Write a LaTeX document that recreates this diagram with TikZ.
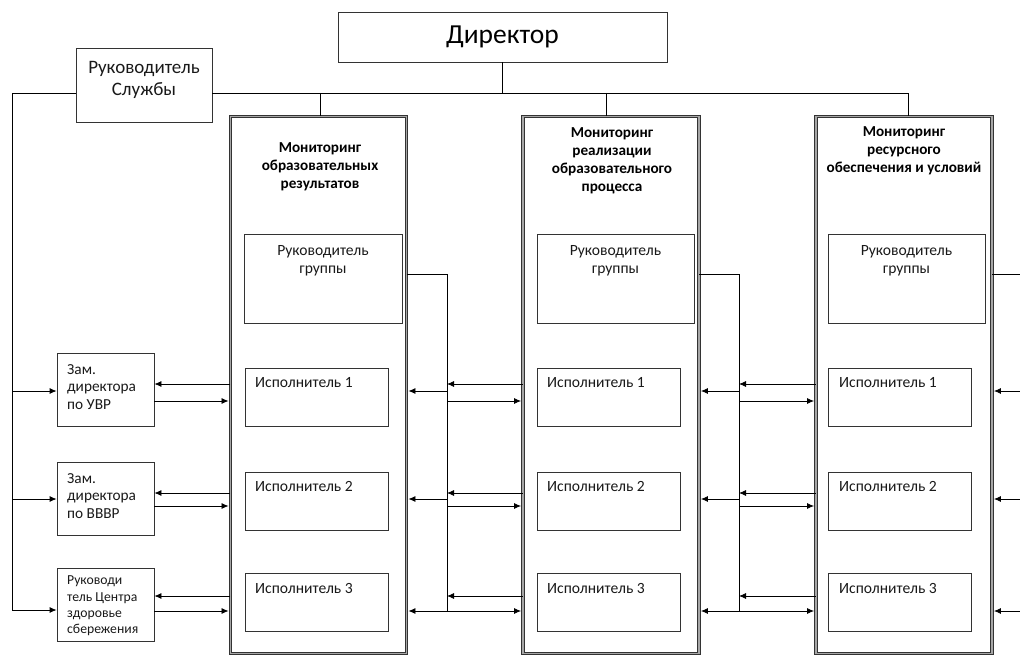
\documentclass[tikz,border=0pt]{standalone}
\usepackage{fontspec}
\setmainfont{Carlito}
\usetikzlibrary{arrows.meta}
\begin{document}
\begin{tikzpicture}[x=1pt,y=-1pt,
  box/.style={draw=black!80, line width=0.8pt, rectangle, inner sep=0pt},
  colbox/.style={draw=black!80, double=black!35, double distance=1.4pt, line width=0.9pt, inner sep=0pt, minimum width=176pt, minimum height=537pt},
  ln/.style={line width=0.8pt, draw=black},
  arr/.style={ln, -{Latex[length=7pt,width=6pt]}},
  arrc/.style={arr, shorten >=1.5pt},
  ttl/.style={font=\bfseries\fontsize{15.2}{18.3}\selectfont, align=center, inner sep=0pt, anchor=north, text=black},
  txt/.style={font=\fontsize{15.6}{18}\selectfont, inner sep=0pt, text=black!90},
  small/.style={font=\fontsize{15.3}{17.5}\selectfont, align=left, inner sep=0pt, anchor=north west, text=black!90},
]
\useasboundingbox (0,0) rectangle (1020,655);

% top boxes
\node[box, minimum width=329pt, minimum height=50pt, font=\fontsize{27.5}{30}\selectfont] (dir) at (502.5,37) {Директор};
\node[box, minimum width=136pt, minimum height=74pt] (rs) at (144,85) {};
\node[font=\fontsize{19}{22.5}\selectfont, align=center, inner sep=0pt, anchor=north, text=black!90] (rst) at (144,61) {Руководитель\\Службы};

% columns
\node[colbox] (c1) at (318.5,385) {};
\node[colbox] (c2) at (611,385) {};
\node[colbox] (c3) at (904,385) {};

\node[ttl] (t1) at (320,142) {Мониторинг\\образовательных\\результатов};
\node[ttl] (t2) at (612,127) {Мониторинг\\реализации\\образовательного\\процесса};
\node[ttl] (t3) at (904,126) {Мониторинг\\ресурсного\\обеспечения и условий};

% group leader boxes
\node[box, minimum width=158pt, minimum height=89pt] (g1) at (323,278.5) {};
\node[box, minimum width=157pt, minimum height=89pt] (g2) at (615.5,278.5) {};
\node[box, minimum width=157pt, minimum height=89pt] (g3) at (906.5,278.5) {};
\foreach \g in {1,2,3}{
  \node[txt, align=center, anchor=north] (g\g t) at (g\g.north |- 0,245) {Руководитель\\группы};
}

% executor boxes
\foreach \c/\cx/\tx in {1/316.5/255, 2/608.5/547, 3/899.5/839}{
  \foreach \r/\cy/\ty in {1/397/377, 2/501/481, 3/602.5/583}{
    \node[box, minimum width=143pt, minimum height=58pt] (e\c\r) at (\cx,\cy) {};
    \node[txt, anchor=north west] (e\c\r t) at (\tx,\ty) {Исполнитель \r};
  }
}

% left boxes
\node[box, minimum width=97pt, minimum height=73pt] (z1) at (105.5,389.5) {};
\node[small] (z1t) at (67,364) {Зам.\\директора\\по УВР};
\node[box, minimum width=97pt, minimum height=73pt] (z2) at (105.5,498.5) {};
\node[small] (z2t) at (67,473) {Зам.\\директора\\по ВВВР};
\node[box, minimum width=97pt, minimum height=73pt] (z3) at (105.5,604.5) {};
\node[small, font=\fontsize{13.7}{16.1}\selectfont] (z3t) at (67,576) {Руководи\\тель Центра\\здоровье\\сбережения};

% top bus
\coordinate (bus) at (0,93);
\draw[ln] (dir.south) -- (dir.south |- bus);
\draw[ln] (rs.east |- bus) -- ([xshift=4pt]c3.north |- bus) -- ([xshift=4pt]c3.north);
\draw[ln] ([xshift=1.5pt]c1.north |- bus) -- ([xshift=1.5pt]c1.north);
\draw[ln] ([xshift=-5pt]c2.north |- bus) -- ([xshift=-5pt]c2.north);

% left bus
\coordinate (lt) at (12,93);
\coordinate (lb) at (12,610);
\draw[ln] (rs.west |- bus) -- (lt) -- (lb);
\draw[arr] (lt |- 0,391) -- (z1.west |- 0,391);
\draw[arr] (lt |- 0,499) -- (z2.west |- 0,499);
\draw[arr] (lb) -- (z3.west |- lb);

% left boxes <-> column 1
\draw[arr] (c1.west |- 0,384) -- (z1.east |- 0,384);
\draw[arrc] (z1.east |- 0,401) -- (c1.west |- 0,401);
\draw[arr] (c1.west |- 0,493) -- (z2.east |- 0,493);
\draw[arrc] (z2.east |- 0,506) -- (c1.west |- 0,506);
\draw[arr] (c1.west |- 0,596) -- (z3.east |- 0,596);
\draw[arrc] (z3.east |- 0,611) -- (c1.west |- 0,611);

% between columns
\coordinate (v1) at (447,274);
\coordinate (v1b) at (447,611);
\coordinate (v2) at (739,274);
\coordinate (v2b) at (739,611);
\draw[ln] (c1.east |- v1) -- (v1) -- (v1b);
\draw[ln] (c2.east |- v2) -- (v2) -- (v2b);
\foreach \v/\a/\b in {v1/c1/c2, v2/c2/c3}{
  \draw[arr] (\b.west |- 0,384) -- (\v |- 0,384);
  \draw[arrc] (\v |- 0,391) -- (\a.east |- 0,391);
  \draw[arrc] (\v |- 0,401) -- (\b.west |- 0,401);
  \draw[arr] (\b.west |- 0,493) -- (\v |- 0,493);
  \draw[arrc] (\v |- 0,499) -- (\a.east |- 0,499);
  \draw[arrc] (\v |- 0,506) -- (\b.west |- 0,506);
  \draw[arr] (\b.west |- 0,596) -- (\v |- 0,596);
  \draw[arrc] (\v |- 0,611) -- (\a.east |- 0,611);
  \draw[arrc] (\v |- 0,611) -- (\b.west |- 0,611);
}

% right edge
\coordinate (re) at (1020,274);
\draw[ln] (c3.east |- re) -- (re);
\draw[arrc] (re |- 0,391) -- (c3.east |- 0,391);
\draw[arrc] (re |- 0,499) -- (c3.east |- 0,499);
\draw[arrc] (re |- 0,611) -- (c3.east |- 0,611);
\end{tikzpicture}
\end{document}
